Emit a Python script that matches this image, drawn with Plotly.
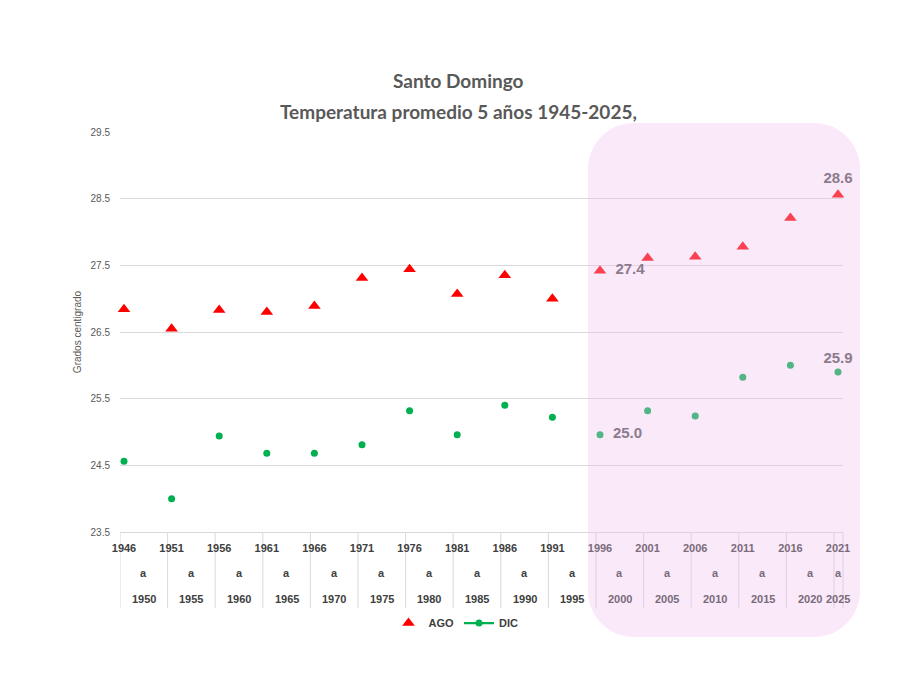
import plotly.graph_objects as go

# ---- data ----
start_years = [1946, 1951, 1956, 1961, 1966, 1971, 1976, 1981, 1986, 1991, 1996, 2001, 2006, 2011, 2016, 2021]
end_years = [1950, 1955, 1960, 1965, 1970, 1975, 1980, 1985, 1990, 1995, 2000, 2005, 2010, 2015, 2020, 2025]
ago = [26.84, 26.55, 26.83, 26.80, 26.89, 27.31, 27.44, 27.07, 27.35, 27.00,
       27.42, 27.61, 27.63, 27.78, 28.21, 28.56]
dic = [24.56, 24.00, 24.94, 24.68, 24.68, 24.81, 25.32, 24.96, 25.40, 25.22,
       24.96, 25.32, 25.24, 25.82, 26.00, 25.90]
labelled = [10, 15]
y_ticks = [23.5, 24.5, 25.5, 26.5, 27.5, 28.5, 29.5]

W, H = 917, 699
L, R, T, B = 120, 843, 132, 532
FONT = "Liberation Sans"
idx = list(range(len(start_years)))
x_range = [-0.084, 15.105]

def px2x(px):
    return (px - L) / (R - L)

def py2y(py):
    return (B - py) / (B - T)

def lab_text(vals):
    out = []
    for i, v in enumerate(vals):
        if i == 10:
            out.append("\u2002" + f"{v:.1f}")
        elif i in labelled:
            out.append(f"{v:.1f}")
        else:
            out.append("")
    return out

label_pos = ["middle right" if i == 10 else "top center" for i in idx]

fig = go.Figure()
fig.add_trace(go.Scatter(
    x=idx, y=ago, mode="markers+text", name="AGO",
    marker=dict(symbol="triangle-up", size=11, color="#FF0000"),
    text=lab_text(ago), textposition=label_pos,
    textfont=dict(family=FONT, size=15, color="#595959", weight="bold"),
    cliponaxis=False,
))
fig.add_trace(go.Scatter(
    x=idx, y=dic, mode="markers+text", name="DIC", showlegend=False,
    marker=dict(symbol="circle", size=7, color="#00B050"),
    text=lab_text(dic), textposition=label_pos,
    textfont=dict(family=FONT, size=15, color="#595959", weight="bold"),
    cliponaxis=False,
))
fig.add_trace(go.Scatter(
    x=[None], y=[None], mode="lines+markers", name="DIC",
    marker=dict(symbol="circle", size=7, color="#00B050"),
    line=dict(color="#00B050", width=2.25),
))

# overlay colour blending for annotation text under the pink panel
def blend(rgb, over=(236, 190, 237), a=0.34):
    return "rgb(%d,%d,%d)" % tuple(round(c * (1 - a) + o * a) for c, o in zip(rgb, over))

annotations = []
for i in idx:
    inside = i >= 10
    col = blend((64, 64, 64)) if inside else "#404040"
    xc = i + 0.416 if i < 15 else 15.0
    annotations.append(dict(x=xc, y=py2y(573), xref="x", yref="paper", text="a",
                            xanchor="center", yanchor="middle", showarrow=False,
                            font=dict(family=FONT, size=11, color=col, weight="bold")))
    annotations.append(dict(x=xc, y=py2y(599), xref="x", yref="paper", text=str(end_years[i]),
                            xanchor="center", yanchor="middle", showarrow=False,
                            font=dict(family=FONT, size=11, color=col, weight="bold")))

annotations.append(dict(x=px2x(458.5), y=py2y(80), xref="paper", yref="paper",
                        text="Santo Domingo", showarrow=False, xanchor="center", yanchor="middle",
                        font=dict(family="Lato", size=19, color="#595959", weight="bold")))
annotations.append(dict(x=px2x(458.5), y=py2y(111), xref="paper", yref="paper",
                        text="Temperatura promedio 5 años 1945-2025,", showarrow=False,
                        xanchor="center", yanchor="middle",
                        font=dict(family="Lato", size=19, color="#595959", weight="bold")))

shapes = []
# category separators below the axis
for k in range(16):
    shapes.append(dict(type="line", xref="x", yref="paper", x0=k - 0.084, x1=k - 0.084,
                       y0=0, y1=py2y(608), line=dict(color="#d9d9d9", width=1), layer="below"))
shapes.append(dict(type="line", xref="paper", yref="paper", x0=1, x1=1,
                   y0=0, y1=py2y(608), line=dict(color="#d9d9d9", width=1), layer="below"))

# rounded pink highlight panel
pl, pr, pt, pb, r = 588, 860, 123, 637, 46
k = 0.5523 * r
def P(px, py):
    return f"{px2x(px):.5f},{py2y(py):.5f}"
path = (f"M {P(pl, pt + r)} C {P(pl, pt + r - k)} {P(pl + r - k, pt)} {P(pl + r, pt)} "
        f"L {P(pr - r, pt)} C {P(pr - r + k, pt)} {P(pr, pt + r - k)} {P(pr, pt + r)} "
        f"L {P(pr, pb - r)} C {P(pr, pb - r + k)} {P(pr - r + k, pb)} {P(pr - r, pb)} "
        f"L {P(pl + r, pb)} C {P(pl + r - k, pb)} {P(pl, pb - r + k)} {P(pl, pb - r)} Z")
shapes.append(dict(type="path", xref="paper", yref="paper", path=path,
                   fillcolor="rgb(236,190,237)", opacity=0.34, line=dict(width=0), layer="above"))

fig.update_layout(
    width=W, height=H,
    margin=dict(l=L, r=W - R, t=T, b=H - B, autoexpand=False),
    plot_bgcolor="white", paper_bgcolor="white",
    showlegend=True,
    legend=dict(orientation="h", x=px2x(456), xanchor="center", y=py2y(623), yanchor="middle",
                font=dict(family=FONT, size=11, color="#404040", weight="bold"),
                itemwidth=30, bgcolor="rgba(0,0,0,0)"),
    annotations=annotations,
    shapes=shapes,
    xaxis=dict(range=x_range, tickmode="array", tickvals=idx, ticktext=[str(y) for y in start_years],
               showgrid=False, zeroline=False, showline=True, linecolor="#d9d9d9", linewidth=1,
               ticks="", ticklabelstandoff=6,
               tickfont=dict(family=FONT, size=11, color="#404040", weight="bold")),
    yaxis=dict(range=[23.5, 29.5], tickmode="array", tickvals=y_ticks, ticktext=[f"{v:.1f}" for v in y_ticks],
               showgrid=True, gridcolor="#d9d9d9", gridwidth=1, zeroline=False, showline=False,
               ticks="", ticklabelstandoff=9,
               tickfont=dict(family=FONT, size=10, color="#595959"),
               title=dict(text="Grados centigrado", standoff=7,
                          font=dict(family=FONT, size=10, color="#595959"))),
)

fig.write_html("out.html")
